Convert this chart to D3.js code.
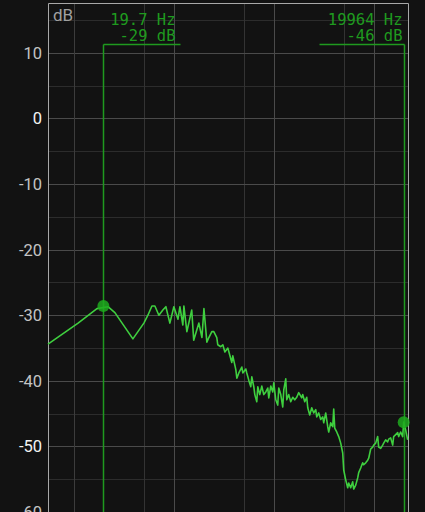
<!DOCTYPE html>
<html>
<head>
<meta charset="utf-8">
<script src="https://cdn.jsdelivr.net/npm/d3@7"></script>
<style>
  body { margin: 0; background: #121212; overflow: hidden; }
</style>
</head>
<body>
<script>
// spectrum: frequency (Hz) and level (dB)
var freqs = [5.5, 11.0, 17.0, 21.9, 25.7, 38.9, 50.1, 55.0, 60.3, 64.6, 70.8, 77.6, 83.2, 91.2, 100,
  110, 115, 123, 126, 135, 151, 158, 178, 191, 200, 214, 224, 240, 251, 269, 275, 295, 309, 324, 347,
  363, 380, 389, 417, 427, 447, 479, 490, 525, 537, 562, 589, 603, 631, 646, 676, 692, 724, 759, 794,
  832, 871, 891, 933, 977, 1000, 1047, 1096, 1122, 1175, 1230, 1259, 1318, 1349, 1413, 1479, 1549,
  1622, 1698, 1778, 1905, 1950, 2042, 2138, 2188, 2291, 2399, 2512, 2630, 2692, 2818, 2951, 3090,
  3162, 3311, 3467, 3548, 3715, 3890, 3981, 4074, 4266, 4467, 4677, 4898, 5012, 5248, 5495, 5623,
  5888, 6166, 6310, 6607, 6918, 7079, 7413, 7762, 7943, 8318, 8710, 8913, 9333, 9772, 10000, 10470,
  10960, 11220, 11750, 12300, 12590, 13180, 13800, 14130, 14790, 15490, 15850, 16600, 17380, 17780,
  18620, 19500, 19964, 20890, 21880];
var levels = [-34.4, -31.2, -29.0, -28.7, -29.6, -33.6, -31.2, -30.0, -28.6, -28.6, -30.0, -29.2, -28.7, -31.2, -28.7,
  -30.6, -28.7, -31.5, -28.6, -32.5, -29.2, -33.8, -31.2, -33.4, -29.0, -34.1, -33.4, -32.5, -32.5, -33.4, -34.5, -34.8, -34.5, -35.6, -35.0,
  -36.1, -37.2, -36.2, -38.3, -39.6, -38.8, -37.9, -38.8, -38.2, -38.8, -39.9, -40.9, -39.4, -40.9, -42.1, -43.2, -40.9, -42.1, -40.8, -42.1,
  -41.7, -41.1, -42.6, -40.8, -41.7, -40.3, -42.9, -43.7, -41.1, -42.1, -44.0, -41.4, -39.7, -42.9, -42.1, -43.2, -42.5,
  -42.9, -42.5, -41.8, -42.6, -42.1, -43.2, -42.5, -44.1, -45.2, -44.1, -44.9, -44.4, -45.5, -44.9, -45.9, -45.5,
  -46.4, -44.9, -47.0, -47.8, -46.4, -47.0, -44.3, -47.2, -47.8, -48.5, -49.5, -51.0, -53.6, -55.1, -56.3, -55.6,
  -56.3, -55.4, -56.5, -55.9, -54.8, -54.0, -53.3, -52.5, -52.8, -52.5, -52.1, -51.8, -50.4, -50.1, -49.8, -49.5,
  -48.5, -50.1, -50.3, -49.8, -49.5, -49.0, -49.3, -48.9, -48.7, -49.8, -48.5, -48.2, -47.9, -48.5,
  -47.8, -48.5, -46.3, -47.5, -49.0];

var dbTicks = [10, 0, -10, -20, -30, -40, -50, -60];
var dbMinor = [15, 5, -5, -15, -25, -35, -45, -55];
var freqMajor = [10, 100, 1000, 10000];
var freqMinor = [50, 500, 5000];

var cursors = [
  { freq: 19.7, db: -29, label1: '19.7 Hz', label2: '-29 dB' },
  { freq: 19964, db: -46, label1: '19964 Hz', label2: '-46 dB' }
];

var W = 425, H = 512;
var plotLeft = 48, plotRight = 408, plotTop = 3;

var x = d3.scaleLog().domain([5.5, 22050]).range([plotLeft, plotRight]);
var y = d3.scaleLinear().domain([-60, 17.6]).range([512, plotTop]);

var svg = d3.select('body').append('svg')
  .attr('width', W)
  .attr('height', H)
  .style('display', 'block')
  .style('background', '#121212');

var grid = svg.append('g');

grid.selectAll('.hminor').data(dbMinor)
  .enter().append('line')
  .attr('x1', plotLeft).attr('x2', plotRight)
  .attr('y1', function(d) { return Math.round(y(d)) + 0.5; })
  .attr('y2', function(d) { return Math.round(y(d)) + 0.5; })
  .attr('stroke', '#2c2c2c');

grid.selectAll('.vminor').data(freqMinor)
  .enter().append('line')
  .attr('x1', function(d) { return Math.round(x(d)) + 0.5; })
  .attr('x2', function(d) { return Math.round(x(d)) + 0.5; })
  .attr('y1', plotTop).attr('y2', H)
  .attr('stroke', '#333');

grid.selectAll('.hmajor').data(dbTicks)
  .enter().append('line')
  .attr('x1', plotLeft).attr('x2', plotRight)
  .attr('y1', function(d) { return Math.round(y(d)) + 0.5; })
  .attr('y2', function(d) { return Math.round(y(d)) + 0.5; })
  .attr('stroke', '#4a4a4a');

grid.selectAll('.vmajor').data(freqMajor)
  .enter().append('line')
  .attr('x1', function(d) { return Math.round(x(d)) + 0.5; })
  .attr('x2', function(d) { return Math.round(x(d)) + 0.5; })
  .attr('y1', plotTop).attr('y2', H)
  .attr('stroke', function(d) { return d == 10 ? '#3c3c3c' : '#4a4a4a'; });

// frame
svg.append('path')
  .attr('d', 'M' + (plotLeft + 0.5) + ',' + H + 'V' + (plotTop + 0.5) + 'H' + (plotRight + 0.5) + 'V' + H)
  .attr('fill', 'none')
  .attr('stroke', '#a8a8a8')
  .attr('stroke-width', 1);

// y tick labels
svg.selectAll('.ylab').data(dbTicks)
  .enter().append('text')
  .attr('x', 42)
  .attr('y', function(d) { return y(d); })
  .attr('dy', '0.36em')
  .attr('text-anchor', 'end')
  .attr('font-family', 'Roboto, sans-serif')
  .attr('font-size', 16.5)
  .attr('fill', function(d) { return (d == 0 || d == -50) ? '#f2f2f2' : '#c4c4c4'; })
  .text(function(d) { return d; });

svg.append('text')
  .attr('x', 53).attr('y', 21)
  .attr('font-family', 'Roboto, sans-serif')
  .attr('font-size', 17)
  .attr('fill', '#a0a0a0')
  .text('dB');

// cursors
var curColor = '#1f9a1f';
cursors.forEach(function(c, i) {
  var cx = Math.round(x(c.freq)) + 0.5;
  var lineY = 44.5;
  var textRight = i == 0 ? cx + 72 : cx - 2;
  var barLeft = i == 0 ? cx : cx - 85;
  var barRight = i == 0 ? cx + 77 : cx;
  svg.append('line')
    .attr('x1', cx).attr('x2', cx)
    .attr('y1', lineY).attr('y2', H)
    .attr('stroke', curColor).attr('stroke-width', 1.5);
  svg.append('line')
    .attr('x1', barLeft).attr('x2', barRight)
    .attr('y1', lineY).attr('y2', lineY)
    .attr('stroke', curColor).attr('stroke-width', 1.5);
  svg.append('text')
    .attr('x', textRight).attr('y', 25)
    .attr('text-anchor', 'end')
    .attr('font-family', 'DejaVu Sans Mono, monospace')
    .attr('font-size', 15.5)
    .attr('fill', curColor)
    .text(c.label1);
  svg.append('text')
    .attr('x', textRight).attr('y', 41)
    .attr('text-anchor', 'end')
    .attr('font-family', 'DejaVu Sans Mono, monospace')
    .attr('font-size', 15.5)
    .attr('fill', curColor)
    .text(c.label2);
});

// spectrum line
var data = freqs.map(function(f, i) { return { f: f, v: levels[i] }; });
var line = d3.line()
  .x(function(d) { return x(d.f); })
  .y(function(d) { return y(d.v); });

svg.append('path')
  .datum(data)
  .attr('d', line)
  .attr('fill', 'none')
  .attr('stroke', '#3fcf3f')
  .attr('stroke-width', 1.6)
  .attr('stroke-linejoin', 'round');

// cursor markers on the curve
svg.selectAll('.marker').data(cursors)
  .enter().append('circle')
  .attr('cx', function(d) { return x(d.freq); })
  .attr('cy', function(d) { return y(d.db + (d.freq < 100 ? 0.4 : -0.3)); })
  .attr('r', 6)
  .attr('fill', '#1faa1f')
  .attr('fill-opacity', 0.85);
</script>
</body>
</html>
